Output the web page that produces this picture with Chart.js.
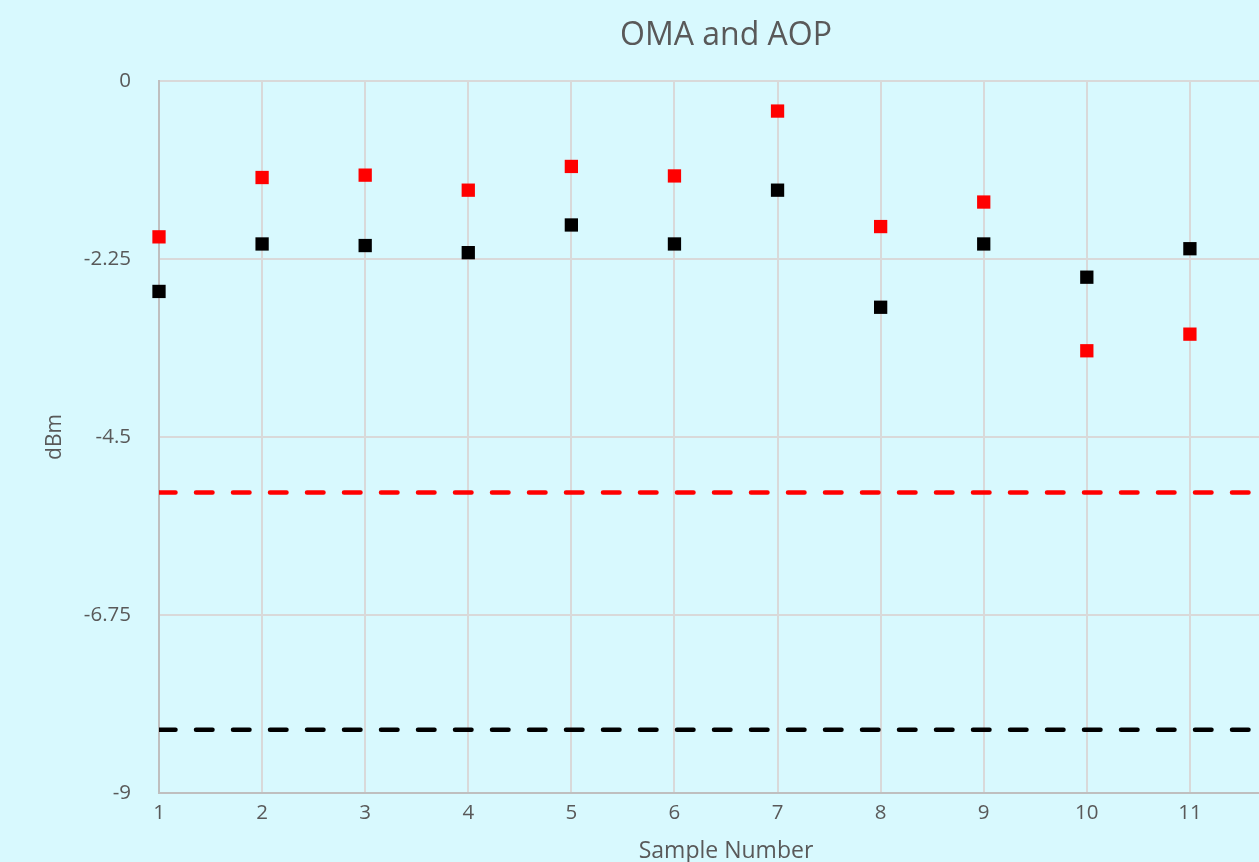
<!DOCTYPE html>
<html>
<head>
<meta charset="utf-8">
<title>OMA and AOP</title>
<script src="https://cdn.jsdelivr.net/npm/chart.js@4.4.1/dist/chart.umd.min.js"></script>
<style>
  html, body { margin: 0; padding: 0; background: #d8f9fe; overflow: hidden; }
  #wrap { position: absolute; left: 0; top: 0; width: 1452px; height: 862px; }
</style>
</head>
<body>
<div id="wrap"><canvas id="chart"></canvas></div>
<script>
// values
var samples = [1, 2, 3, 4, 5, 6, 7, 8, 9, 10, 11];
var omaValues = [-1.97, -1.22, -1.19, -1.38, -1.08, -1.20, -0.38, -1.84, -1.53, -3.41, -3.20];
var aopValues = [-2.66, -2.06, -2.08, -2.17, -1.82, -2.06, -1.38, -2.86, -2.06, -2.48, -2.12];
var limitX = [1, 12];
var omaLimit = [-5.2, -5.2];
var aopLimit = [-8.2, -8.2];

var textColor = '#595959';
var fontFamily = '"Open Sans", "Liberation Sans", sans-serif';

function pairs(xs, ys) {
    return xs.map(function(x, i) { return {x: x, y: ys[i]}; });
}

var ctx = document.getElementById('chart').getContext('2d');

var config = {
    type: 'scatter',
    data: {
        datasets: [{
            label: 'OMA',
            data: pairs(samples, omaValues),
            pointStyle: 'rect',
            pointRadius: 9.4,
            pointBorderWidth: 0,
            backgroundColor: '#ff0000',
            borderColor: '#ff0000',
            clip: false
        }, {
            label: 'AOP',
            data: pairs(samples, aopValues),
            pointStyle: 'rect',
            pointRadius: 9.4,
            pointBorderWidth: 0,
            backgroundColor: '#000000',
            borderColor: '#000000',
            clip: false
        }, {
            label: 'OMA min',
            data: pairs(limitX, omaLimit),
            showLine: true,
            pointRadius: 0,
            borderColor: '#ff0000',
            borderWidth: 4.5,
            borderDash: [16.5, 20.5],
            borderCapStyle: 'round'
        }, {
            label: 'AOP min',
            data: pairs(limitX, aopLimit),
            showLine: true,
            pointRadius: 0,
            borderColor: '#000000',
            borderWidth: 4.5,
            borderDash: [16.5, 20.5],
            borderCapStyle: 'round'
        }]
    },
    options: {
        responsive: true,
        maintainAspectRatio: false,
        animation: false,
        layout: { padding: 0 },
        plugins: {
            legend: { display: false },
            tooltip: { enabled: false },
            title: {
                display: true,
                text: 'OMA and AOP',
                color: textColor,
                font: { family: fontFamily, size: 32, weight: 'normal' },
                padding: { top: 17, bottom: 25.6 }
            }
        },
        scales: {
            x: {
                type: 'linear',
                min: 1,
                max: 12,
                ticks: {
                    stepSize: 1,
                    color: textColor,
                    padding: 8,
                    font: { family: fontFamily, size: 20.5 },
                    callback: function(v) { return String(v); }
                },
                grid: { color: '#d9d9d9', lineWidth: 2, drawTicks: false },
                border: { color: '#bfbfbf', width: 2 },
                title: {
                    display: true,
                    text: 'Sample Number',
                    color: textColor,
                    font: { family: fontFamily, size: 23, lineHeight: 1.0 },
                    padding: { top: 0, bottom: -1 }
                },
                afterFit: function(scale) { scale.height = 69; }
            },
            y: {
                type: 'linear',
                min: -9,
                max: 0,
                ticks: {
                    stepSize: 2.25,
                    color: textColor,
                    padding: 28,
                    font: { family: fontFamily, size: 20.5 },
                    callback: function(v) { return String(Math.round(v * 100) / 100); }
                },
                grid: { color: '#d9d9d9', lineWidth: 2, drawTicks: false },
                border: { color: '#bfbfbf', width: 2 },
                title: {
                    display: true,
                    text: 'dBm',
                    color: textColor,
                    font: { family: fontFamily, size: 21 },
                    padding: { top: 42, bottom: 0 }
                },
                afterFit: function(scale) { scale.width = 159; }
            },
            // empty right-hand space (where the cropped legend sat)
            side: {
                type: 'linear',
                position: 'right',
                display: true,
                grid: { display: false, drawTicks: false },
                border: { display: false },
                ticks: { display: false },
                afterFit: function(scale) { scale.width = 159; }
            }
        }
    }
};

var chart = new Chart(ctx, config);
</script>
</body>
</html>
